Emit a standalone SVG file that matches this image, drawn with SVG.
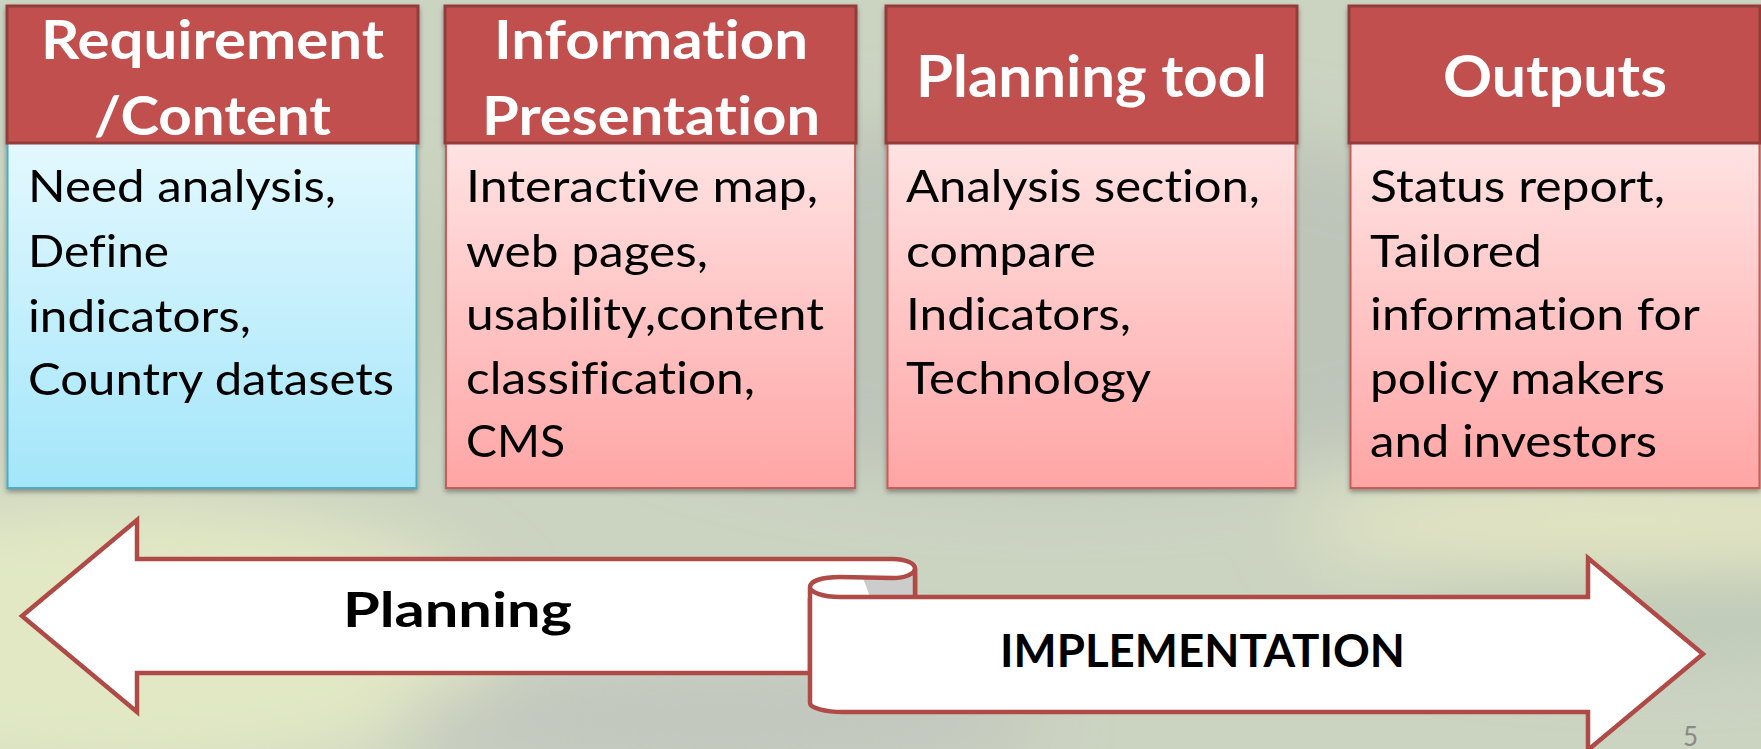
<svg xmlns="http://www.w3.org/2000/svg" width="1761" height="749" viewBox="0 0 1761 749">
  <defs>
    <filter id="haze" x="-50%" y="-50%" width="200%" height="200%">
      <feGaussianBlur stdDeviation="35"/>
    </filter>
    <filter id="shadow" x="-5%" y="-5%" width="110%" height="115%">
      <feDropShadow dx="0" dy="3" stdDeviation="2.5" flood-color="#000" flood-opacity="0.35"/>
    </filter>
    <linearGradient id="pink" x1="0" y1="0" x2="0" y2="1">
      <stop offset="0" stop-color="#FFE3E3"/>
      <stop offset="1" stop-color="#FFA5A5"/>
    </linearGradient>
    <linearGradient id="blue" x1="0" y1="0" x2="0" y2="1">
      <stop offset="0" stop-color="#E3F8FE"/>
      <stop offset="1" stop-color="#A3E6FA"/>
    </linearGradient>
    <style>
      text { font-variant-ligatures: none; font-feature-settings: "liga" 0, "clig" 0; }
      .hdr { fill: #C0504D; stroke: #923D3A; stroke-width: 3; }
      .body-red { fill: url(#pink); stroke: #C95B58; stroke-width: 2; }
      .body-blue { fill: url(#blue); stroke: #4BACC6; stroke-width: 2; }
      .htxt { font-family: Lato, "Liberation Sans", sans-serif; font-weight: 700; fill: #FFFFFF; }
      .h12 { font-size: 54px; }
      .h34 { font-size: 58px; }
      .btxt { font-family: Lato, "Liberation Sans", sans-serif; font-size: 44.5px; fill: #000000; }
      .rib { fill: #FFFFFF; stroke: #AF4A46; stroke-width: 4.5; stroke-linejoin: miter; }
      .ribline { fill: none; stroke: #AF4A46; stroke-width: 4.5; }
      .rtxt { font-family: Lato, "Liberation Sans", sans-serif; font-weight: 700; fill: #000000; }
    </style>
  </defs>

  <!-- soft landscape backdrop -->
  <rect x="0" y="0" width="1761" height="749" fill="#CBD3C1"/>
  <g filter="url(#haze)">
    <ellipse cx="120" cy="640" rx="380" ry="140" fill="#E2E8C4"/>
    <ellipse cx="1620" cy="525" rx="320" ry="45" fill="#E5E7C3"/>
    <ellipse cx="720" cy="720" rx="320" ry="60" fill="#C2C7BE"/>
    <ellipse cx="1050" cy="300" rx="520" ry="180" fill="#BDC5B9"/>
    <ellipse cx="1660" cy="610" rx="260" ry="40" fill="#BCC8B8"/>
    <ellipse cx="250" cy="300" rx="300" ry="120" fill="#C6CFBB"/>
  </g>

  <!-- column 1 -->
  <g id="node-requirement" filter="url(#shadow)">
    <rect class="body-blue" x="7.5" y="143" width="409" height="345"/>
    <rect class="hdr" x="7" y="6" width="411" height="137"/>
    <text class="htxt h12" x="41" y="59" textLength="343" lengthAdjust="spacingAndGlyphs">Requirement</text>
    <text class="htxt h12" x="94" y="135" textLength="237" lengthAdjust="spacingAndGlyphs">/Content</text>
    <text class="btxt" x="28" y="202" textLength="308" lengthAdjust="spacingAndGlyphs">Need analysis,</text>
    <text class="btxt" x="28" y="267" textLength="141" lengthAdjust="spacingAndGlyphs">Define</text>
    <text class="btxt" x="28" y="331.5" textLength="223" lengthAdjust="spacingAndGlyphs">indicators,</text>
    <text class="btxt" x="28" y="395" textLength="366" lengthAdjust="spacingAndGlyphs">Country datasets</text>
  </g>

  <!-- column 2 -->
  <g id="node-presentation" filter="url(#shadow)">
    <rect class="body-red" x="446" y="143" width="409" height="345"/>
    <rect class="hdr" x="445" y="6" width="411" height="137"/>
    <text class="htxt h12" x="494" y="59" textLength="314" lengthAdjust="spacingAndGlyphs">Information</text>
    <text class="htxt h12" x="482" y="135" textLength="338" lengthAdjust="spacingAndGlyphs">Presentation</text>
    <text class="btxt" x="466" y="202" textLength="352" lengthAdjust="spacingAndGlyphs">Interactive map,</text>
    <text class="btxt" x="466" y="267" textLength="242" lengthAdjust="spacingAndGlyphs">web pages,</text>
    <text class="btxt" x="466" y="330" textLength="358" lengthAdjust="spacingAndGlyphs">usability,content</text>
    <text class="btxt" x="466" y="393.5" textLength="289" lengthAdjust="spacingAndGlyphs">classification,</text>
    <text class="btxt" x="466" y="457" textLength="99" lengthAdjust="spacingAndGlyphs">CMS</text>
  </g>

  <!-- column 3 -->
  <g id="node-planning-tool" filter="url(#shadow)">
    <rect class="body-red" x="887.5" y="143" width="408" height="345"/>
    <rect class="hdr" x="886" y="6" width="411" height="137"/>
    <text class="htxt h34" x="916" y="97" textLength="351" lengthAdjust="spacingAndGlyphs">Planning tool</text>
    <text class="btxt" x="906" y="202" textLength="354" lengthAdjust="spacingAndGlyphs">Analysis section,</text>
    <text class="btxt" x="906" y="267" textLength="190" lengthAdjust="spacingAndGlyphs">compare</text>
    <text class="btxt" x="906" y="330" textLength="225" lengthAdjust="spacingAndGlyphs">Indicators,</text>
    <text class="btxt" x="906" y="393.5" textLength="245" lengthAdjust="spacingAndGlyphs">Technology</text>
  </g>

  <!-- column 4 -->
  <g id="node-outputs" filter="url(#shadow)">
    <rect class="body-red" x="1350.5" y="143" width="409" height="345"/>
    <rect class="hdr" x="1349" y="6" width="411" height="137"/>
    <text class="htxt h34" x="1443" y="97" textLength="224" lengthAdjust="spacingAndGlyphs">Outputs</text>
    <text class="btxt" x="1370" y="202" textLength="295" lengthAdjust="spacingAndGlyphs">Status report,</text>
    <text class="btxt" x="1370" y="267" textLength="172" lengthAdjust="spacingAndGlyphs">Tailored</text>
    <text class="btxt" x="1370" y="330" textLength="330" lengthAdjust="spacingAndGlyphs">information for</text>
    <text class="btxt" x="1370" y="393.5" textLength="295" lengthAdjust="spacingAndGlyphs">policy makers</text>
    <text class="btxt" x="1370" y="457" textLength="287" lengthAdjust="spacingAndGlyphs">and investors</text>
  </g>

  <!-- left-right ribbon -->
  <g id="connectors">
    <!-- back band pointing left -->
    <path class="rib" d="M22,616 L137,520 L137,559 L893,559 A22,9.5 0 0 1 915,568.5 L915,600 L810,600 L810,673 L137,673 L137,712 Z"/>
    <!-- front band pointing right, fill only -->
    <path fill="#FFFFFF" d="M810,587 C810,581 822,577 840,577 L862,576.6 C866,585 868,592 870,597 L1588,597 L1588,558 L1703,654 L1588,750 L1588,712 L843,712 C825,712 810,708 810,703 Z"/>
    <!-- inside of the fold -->
    <path fill="#CCCCCC" d="M862,576.6 L893,578 A22,9.5 0 0 0 915,568.5 L915,597 L870,597 C868,592 866,585 862,576.6 Z"/>
    <path class="ribline" d="M810,587 C810,581 822,577 840,577 L893,578 A22,9.5 0 0 0 915,568.5 L915,597"/>
    <path class="ribline" stroke-linejoin="miter" d="M810,587 C810,592 822,597 840,597 L1588,597 L1588,558 L1703,654 L1588,750 L1588,712 L843,712 C825,712 810,708 810,703 Z"/>
  </g>

  <g id="node-planning">
    <text class="rtxt" x="343" y="627" font-size="48.5" textLength="229" lengthAdjust="spacingAndGlyphs">Planning</text>
  </g>
  <g id="node-implementation">
    <text class="rtxt" x="1000" y="667" font-size="46" textLength="405" lengthAdjust="spacingAndGlyphs">IMPLEMENTATION</text>
  </g>

  <text x="1683" y="746" font-family="Lato, 'Liberation Sans', sans-serif" font-size="26" fill="#8A8A8A">5</text>
</svg>
